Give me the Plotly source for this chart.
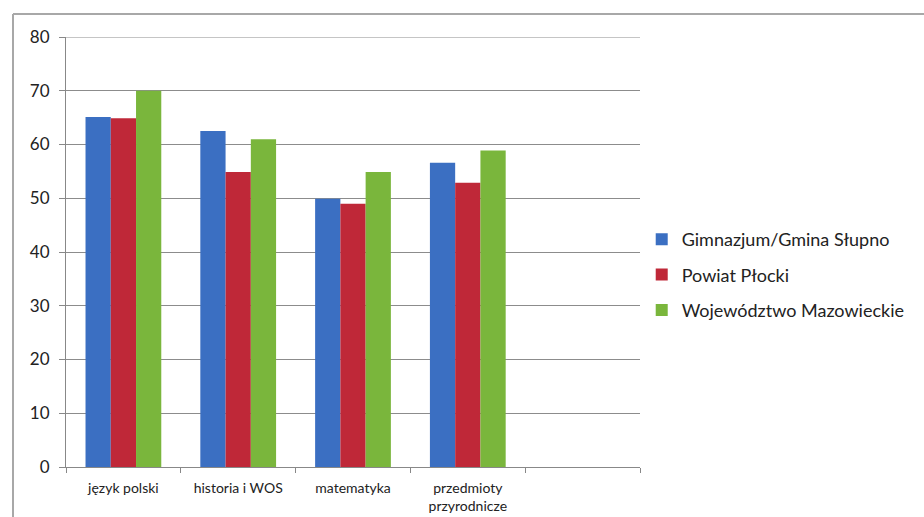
import plotly.graph_objects as go

categories = ["język polski", "historia i WOS", "matematyka", "przedmioty<br>przyrodnicze", " "]
gimnazjum = [65.1, 62.5, 49.9, 56.6]
powiat = [64.9, 54.9, 49.0, 52.9]
wojewodztwo = [70.0, 61.0, 54.9, 58.9]
series_names = ["Gimnazjum/Gmina Słupno", "Powiat Płocki", "Województwo Mazowieckie"]
colors = ["#3b6fc2", "#bf2838", "#7ab63c"]
y_max = 80

W, H = 924, 517
ml, mr, mt, mb = 66, 284, 37, 50
pw = W - ml - mr
ph = H - mt - mb

fig = go.Figure()
for i, (name, vals, c) in enumerate(zip(series_names, [gimnazjum, powiat, wojewodztwo], colors)):
    fig.add_trace(go.Bar(x=categories[:4], y=vals, name=name, marker_color=c,
                         marker_line_width=0, legendgroup="g%d" % i))

def px_to_paper_x(px):
    return (px - ml) / pw

def px_to_paper_y(py):
    return (H - mb - py) / ph

shapes = [
    dict(type="line", xref="paper", yref="paper",
         x0=px_to_paper_x(13), x1=px_to_paper_x(924), y0=px_to_paper_y(14), y1=px_to_paper_y(14),
         line=dict(color="#a8a8a8", width=2)),
    dict(type="line", xref="paper", yref="paper",
         x0=px_to_paper_x(13), x1=px_to_paper_x(13), y0=px_to_paper_y(14), y1=px_to_paper_y(517),
         line=dict(color="#a8a8a8", width=2)),
    dict(type="line", xref="paper", yref="y", x0=0, x1=1, y0=y_max, y1=y_max,
         line=dict(color="#8c8c8c", width=1)),
]

fig.update_layout(
    width=W, height=H,
    margin=dict(l=ml, r=mr, t=mt, b=mb, autoexpand=False),
    paper_bgcolor="white", plot_bgcolor="white",
    barmode="group", bargap=0.34, bargroupgap=0.0,
    font=dict(family="Lato, Open Sans, sans-serif", color="#222222"),
    shapes=shapes,
    legend=dict(x=1.003, y=px_to_paper_y(275), xanchor="left", yanchor="middle",
                font=dict(size=18, color="#222222"), tracegroupgap=9,
                itemwidth=30, traceorder="grouped"),
    xaxis=dict(type="category", categoryorder="array", categoryarray=categories,
               range=[-0.5, 4.5], tickson="boundaries", ticks="outside", ticklen=5,
               tickcolor="#888888", showline=True, linecolor="#888888", linewidth=1,
               showgrid=False, tickfont=dict(size=14, color="#222222"),
               ticklabelstandoff=8, automargin=False),
    yaxis=dict(range=[0, y_max], dtick=10, ticks="outside", ticklen=6, tickcolor="#888888",
               showline=True, linecolor="#888888", linewidth=1,
               showgrid=True, gridcolor="#8c8c8c", gridwidth=1, zeroline=False,
               tickfont=dict(size=17, color="#222222"), ticklabelstandoff=6,
               automargin=False),
)

fig.write_html("out.html")
